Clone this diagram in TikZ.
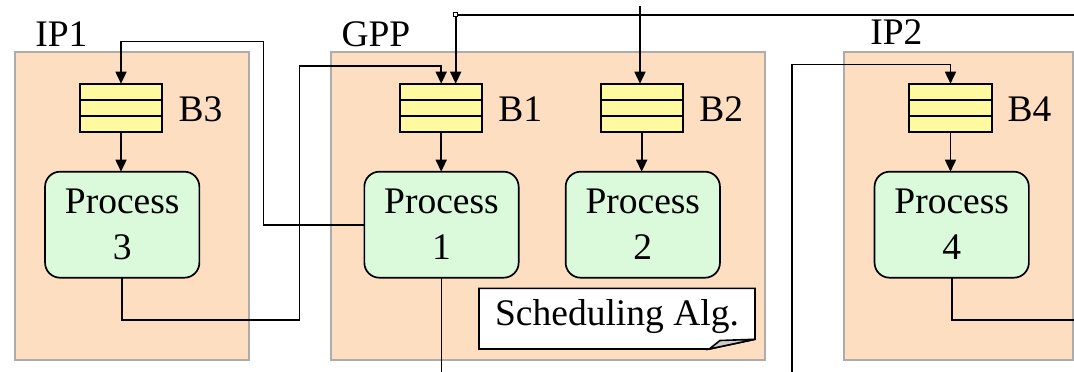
\documentclass[tikz,border=0pt]{standalone}
\usepackage{fontspec}
\setmainfont{Liberation Serif}
\usetikzlibrary{arrows.meta,calc}
\definecolor{regionfill}{RGB}{253,222,192}
\definecolor{regionedge}{RGB}{172,172,172}
\definecolor{buffill}{RGB}{255,250,160}
\definecolor{procfill}{RGB}{219,250,219}
\definecolor{foldgrey}{RGB}{205,205,205}
\begin{document}
\begin{tikzpicture}[x=1pt,y=-1pt,
  every node/.style={font=\fontsize{37.5pt}{46pt}\selectfont, inner sep=0pt, outer sep=0pt},
  region/.style={draw=regionedge, line width=2pt, fill=regionfill},
  bufbox/.style={draw, line width=2pt, fill=buffill, minimum width=82.4pt, minimum height=48pt,
    path picture={
      \draw[line width=2pt]
        ($(path picture bounding box.north west)!1/3!(path picture bounding box.south west)$) --
        ($(path picture bounding box.north east)!1/3!(path picture bounding box.south east)$)
        ($(path picture bounding box.north west)!2/3!(path picture bounding box.south west)$) --
        ($(path picture bounding box.north east)!2/3!(path picture bounding box.south east)$);
    }},
  proc/.style={draw, line width=1.7pt, fill=procfill, rounded corners=15pt,
    minimum width=154.3pt, minimum height=106pt, align=center},
  wire/.style={line width=1.6pt},
  arr/.style={wire, -{Triangle[length=12pt,width=11pt]}},
]
\useasboundingbox (0,0) rectangle (1074,372);

% processor regions
\node[region, minimum width=234.6pt, minimum height=308.3pt] (ip1) at (132,205.85) {};
\node[region, minimum width=434.3pt, minimum height=308.3pt] (gpp) at (548.15,205.85) {};
\node[region, minimum width=228.4pt, minimum height=308.3pt] (ip2) at (958.5,205.85) {};
\node[anchor=base west] (ip1lab) at (35.3,46.7) {IP1};
\node[anchor=base west] (gpplab) at (341.5,46.5) {GPP};
\node[anchor=base west] (ip2lab) at (870.3,44.5) {IP2};

% buffers
\node[bufbox] (b3) at (121,107.7) {};
\node[bufbox] (b1) at (441.2,107.7) {};
\node[bufbox] (b2) at (641.7,107.7) {};
\node[bufbox] (b4) at (950.5,107.7) {};
\node[anchor=base west] (b3lab) at (178.7,121.7) {B3};
\node[anchor=base west] (b1lab) at (498.3,121.7) {B1};
\node[anchor=base west] (b2lab) at (699.3,121.7) {B2};
\node[anchor=base west] (b4lab) at (1007.7,121.7) {B4};

% processes
\node[proc] (p3) at (122.2,224.7) {Process\\3};
\node[proc] (p1) at (441.5,224.7) {Process\\1};
\node[proc] (p2) at (642.8,224.7) {Process\\2};
\node[proc] (p4) at (951.7,224.7) {Process\\4};

% routing points
\coordinate (c31) at (263.3,41.3);
\coordinate (c32) at (299.3,320);
\coordinate (c33) at (299.3,65.7);
\node[draw, fill=white, line width=1pt, minimum size=4pt] (jn) at (455.7,14.7) {};
\coordinate (topR) at (1074,14.7);
\coordinate (topIn) at (640,6);
\coordinate (bot1) at (441.5,372);
\coordinate (bot2) at (791.7,372);
\coordinate (c52) at (791.7,64.3);
\coordinate (rt4) at (1074,320);

% connectors
\draw[arr] (p1.west) -| (c31) -| (b3.north);
\draw[arr] (p3.south) |- (c32) -- (c33) -| (b1.north);
\draw[wire] (jn) -- (topR);
\draw[arr] (jn) -- (jn |- b1.north);
\draw[arr] (topIn) -- (topIn |- b2.north);
\draw[wire] (p1.south) -- (bot1);
\draw[arr] (bot2) -- (c52) -| (b4.north);
\draw[wire] (p4.south) |- (rt4);
\draw[arr] (b3.south) -- (b3.south |- p3.north);
\draw[arr] (b1.south) -- (b1.south |- p1.north);
\draw[arr] (b2.south) -- (b2.south |- p2.north);
\draw[arr] (b4.south) -- (b4.south |- p4.north);

% note with folded corner
\node[minimum width=276pt, minimum height=60.7pt] (note) at (617,318.65) {};
\draw[wire, fill=white] (note.north west) -- (note.north east) -- ([yshift=9.7pt]note.south east)
  -- ([xshift=-45.7pt]note.south east) -- (note.south west) -- cycle;
\draw[wire, fill=foldgrey] ([xshift=-45.7pt]note.south east) -- ([xshift=-35pt,yshift=8.5pt]note.south east)
  -- ([yshift=9.7pt]note.south east) -- cycle;
\node[anchor=base] (notetext) at (617,325) {Scheduling Alg.};
\end{tikzpicture}
\end{document}
